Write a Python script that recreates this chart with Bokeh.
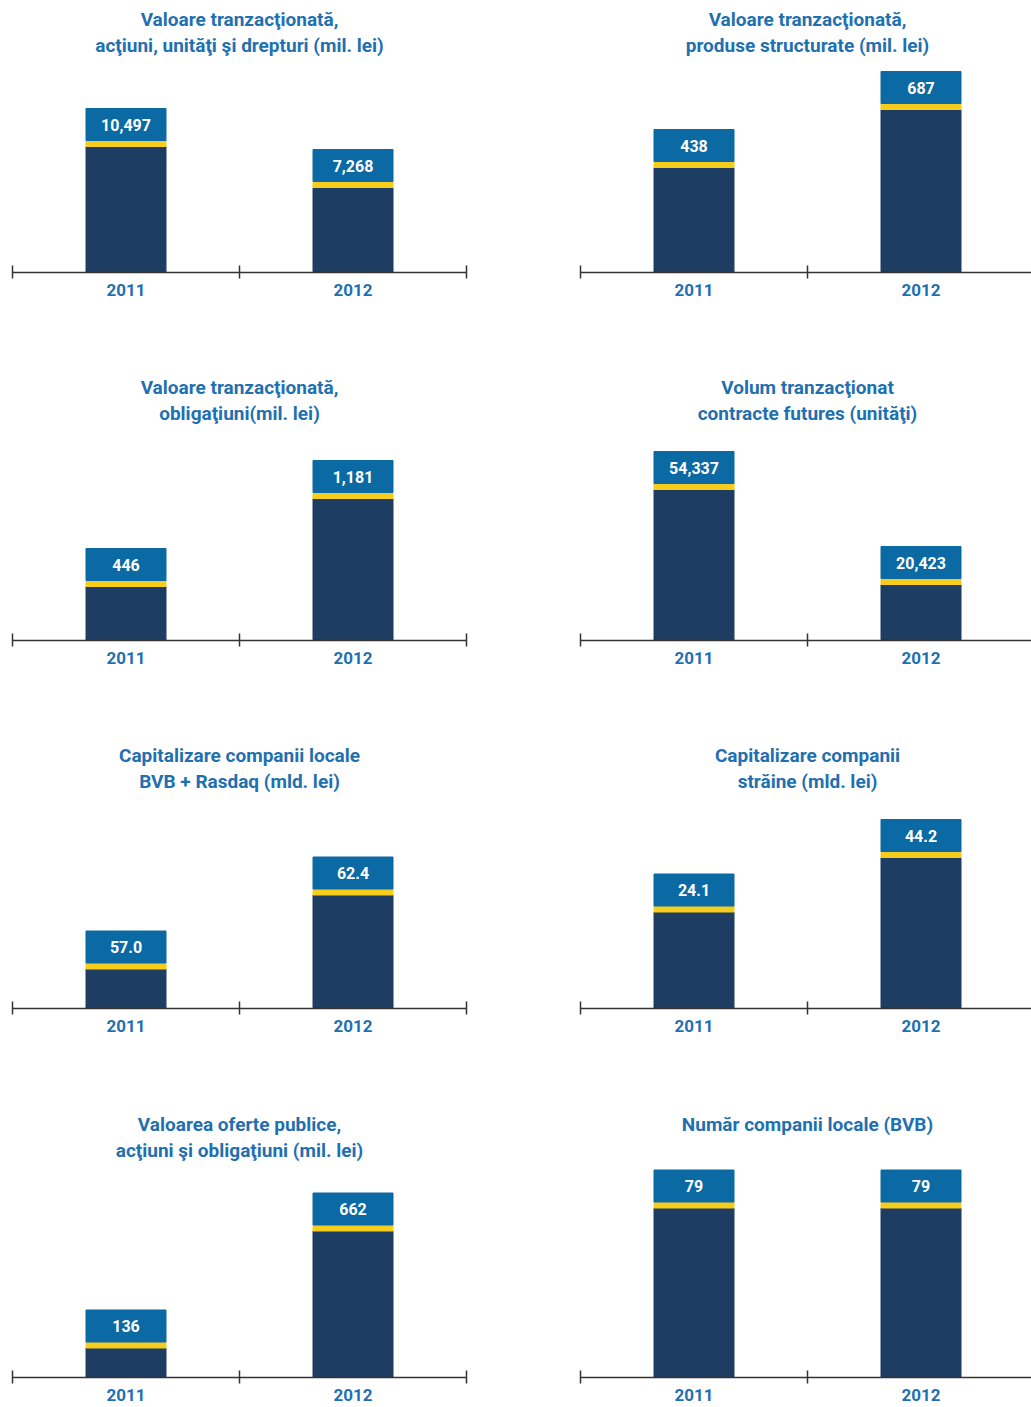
from bokeh.plotting import figure
from bokeh.models import Range1d, LinearAxis, FixedTicker, ColumnDataSource
from bokeh.layouts import gridplot
from bokeh.embed import file_html
from bokeh.resources import INLINE
from bokeh.core.properties import value

# ---------------- data ----------------
years = ["2011", "2012"]

title_line1 = [
    "Valoare tranzacţionată,",
    "Valoare tranzacţionată,",
    "Valoare tranzacţionată,",
    "Volum tranzacţionat",
    "Capitalizare companii locale",
    "Capitalizare companii",
    "Valoarea oferte publice,",
    "Număr companii locale (BVB)",
]
title_line2 = [
    "acţiuni, unităţi şi drepturi (mil. lei)",
    "produse structurate (mil. lei)",
    "obligaţiuni(mil. lei)",
    "contracte futures (unităţi)",
    "BVB + Rasdaq (mld. lei)",
    "străine (mld. lei)",
    "acţiuni şi obligaţiuni (mil. lei)",
    "",
]

values_2011 = [10497, 438, 446, 54337, 57.0, 24.1, 136, 79]
values_2012 = [7268, 687, 1181, 20423, 62.4, 44.2, 662, 79]
decimals = [0, 0, 0, 0, 1, 1, 0, 0]

# bar heights as drawn in the picture (relative units, not proportional to values)
bar_height_2011 = [164, 143, 92, 189, 77.5, 134.5, 67.5, 207.5]
bar_height_2012 = [123, 201, 180, 94, 151.5, 189, 184.5, 207.5]

# ---------------- styles ----------------
FONT = "Roboto"
NAVY = "#1e3d63"
BOX = "#0b69a3"
YELLOW = "#f6cd1c"
TITLE = "#1f70b0"
AXIS = "#333333"

PX = 227.0          # pixels per category unit
BASE = 272          # baseline distance from figure top
LEFT = 12
ROW_H = [368, 368, 369, 302]
COL_W = [568, 463]
BAR_W = 80 / PX
BOX_H = 32
STRIPE_H = 6


def fmt(v, d):
    return f"{v:,.{d}f}"


def make_panel(i, w, h):
    p = figure(width=w, height=h, output_backend="svg", toolbar_location=None,
               tools="", x_range=Range1d(-LEFT / PX, (w - LEFT) / PX),
               y_range=Range1d(BASE - h, BASE), x_axis_type=None, y_axis_type=None,
               min_border=0)
    p.min_border_left = 0
    p.min_border_right = 0
    p.min_border_top = 0
    p.min_border_bottom = 0
    p.outline_line_color = None
    p.background_fill_color = "white"
    p.border_fill_color = "white"

    tops = [bar_height_2011[i], bar_height_2012[i]]
    vals = [values_2011[i], values_2012[i]]
    src = ColumnDataSource(dict(
        x=[0.5, 1.5],
        top=tops,
        box_bottom=[t - BOX_H for t in tops],
        stripe_bottom=[t - BOX_H - STRIPE_H for t in tops],
        label_y=[t - BOX_H / 2 for t in tops],
        label=[fmt(v, decimals[i]) for v in vals],
    ))
    p.vbar(x="x", width=BAR_W, bottom=0, top="stripe_bottom", color=NAVY, source=src)
    p.vbar(x="x", width=BAR_W, bottom="stripe_bottom", top="box_bottom", color=YELLOW, source=src)
    p.vbar(x="x", width=BAR_W, bottom="box_bottom", top="top", color=BOX, source=src)
    p.text(x="x", y="label_y", text="label", source=src, text_color="white",
           text_font=value(FONT), text_font_style="bold", text_font_size="16px",
           text_align="center", text_baseline="middle")

    # titles
    lines = [title_line1[i]] + ([title_line2[i]] if title_line2[i] else [])
    p.text(x=[1.0] * len(lines), y=[253, 227][:len(lines)], text=lines,
           text_color=TITLE, text_font=value(FONT), text_font_style="bold",
           text_font_size="19px", text_align="center", text_baseline="middle")

    # axis line with boundary ticks
    ax = LinearAxis(fixed_location=0, ticker=FixedTicker(ticks=[0, 1, 2], minor_ticks=[]),
                    bounds=(0, 2))
    ax.axis_line_color = AXIS
    ax.axis_line_width = 1.5
    ax.major_tick_line_color = AXIS
    ax.major_tick_line_width = 1.5
    ax.major_tick_in = 7
    ax.major_tick_out = 6
    ax.minor_tick_line_color = None
    ax.major_label_text_color = None
    ax.major_label_text_font_size = "1px"
    p.add_layout(ax, "below")

    # year labels
    ay = LinearAxis(fixed_location=0, ticker=FixedTicker(ticks=[0.5, 1.5], minor_ticks=[]),
                    major_label_overrides={0.5: years[0], 1.5: years[1]})
    ay.axis_line_color = None
    ay.major_tick_line_color = None
    ay.minor_tick_line_color = None
    ay.major_tick_in = 0
    ay.major_tick_out = 0
    ay.major_label_standoff = 11
    ay.major_label_text_color = TITLE
    ay.major_label_text_font = FONT
    ay.major_label_text_font_style = "bold"
    ay.major_label_text_font_size = "17px"
    p.add_layout(ay, "below")
    return p


rows = []
for r in range(4):
    rows.append([make_panel(2 * r + c, COL_W[c], ROW_H[r]) for c in range(2)])

grid = gridplot(rows, toolbar_location=None)
open("out.html", "w").write(file_html(grid, INLINE))
